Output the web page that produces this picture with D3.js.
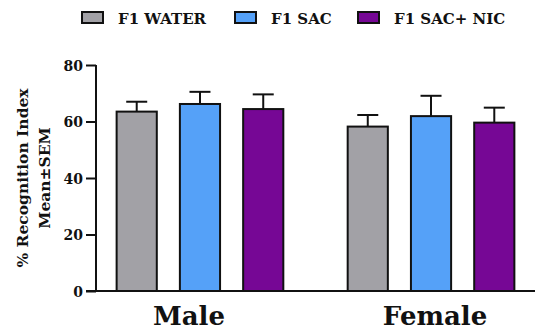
<!DOCTYPE html>
<html>
<head>
<meta charset="utf-8">
<script src="https://cdn.jsdelivr.net/npm/d3@7"></script>
<style>
  body { margin: 0; background: #fff; }
  text { font-family: "DejaVu Serif", serif; font-weight: bold; fill: #111; }
</style>
</head>
<body>
<div class="chart-container"></div>
<script>
// data
groups = ["Male", "Female"]
series = ["F1 WATER", "F1 SAC", "F1 SAC+ NIC"]
colors = ["#a2a1a6", "#55a1f8", "#760795"]
maleMean = [63.5, 66.2, 64.4]
maleSem = [3.5, 4.3, 5.2]
femaleMean = [58.2, 61.9, 59.6]
femaleSem = [4.1, 7.2, 5.3]
yTicks = [0, 20, 40, 60, 80]

data = []
groups.forEach((g, gi) => {
  means = gi == 0 ? maleMean : femaleMean
  sems = gi == 0 ? maleSem : femaleSem
  series.forEach((s, i) => data.push({group: g, series: s, mean: means[i], sem: sems[i], color: colors[i]}))
})

svg = d3.select(".chart-container").append("svg").attr('width', 539).attr('height', 331)

// scales
y = d3.scaleLinear().domain([0, 80]).range([291, 65])
x0 = d3.scaleBand().domain(groups).range([96, 535]).paddingInner(0.18).paddingOuter(0.04)
x1 = d3.scaleBand().domain(series).range([0, x0.bandwidth()]).paddingInner(0.365).paddingOuter(0.18)

// bars
bars = svg.selectAll('rect.bar').data(data).enter().append('rect')
  .attr('class', 'bar')
  .attr('x', d => x0(d.group) + x1(d.series))
  .attr('y', d => y(d.mean))
  .attr('width', x1.bandwidth())
  .attr('height', d => y(0) - y(d.mean))
  .attr('fill', d => d.color)
  .attr('stroke', '#111')
  .attr('stroke-width', 2)

// error bars (upper only)
err = svg.selectAll('g.err').data(data).enter().append('g').attr('class', 'err')
  .attr('transform', d => 'translate(' + (x0(d.group) + x1(d.series) + x1.bandwidth() / 2) + ',0)')
err.append('line').attr('x1', 0).attr('x2', 0)
  .attr('y1', d => y(d.mean)).attr('y2', d => y(d.mean + d.sem))
  .attr('stroke', '#111').attr('stroke-width', 2)
err.append('line').attr('x1', -10.5).attr('x2', 10.5)
  .attr('y1', d => y(d.mean + d.sem)).attr('y2', d => y(d.mean + d.sem))
  .attr('stroke', '#111').attr('stroke-width', 2)

// y axis
yAxis = d3.axisLeft(y).tickValues(yTicks).tickSize(10).tickPadding(3)
ySvg = svg.append('g').attr('transform', 'translate(96,0)').call(yAxis)
ySvg.select('.domain').attr('stroke', '#111').attr('stroke-width', 2).attr('d', 'M0,' + y(80) + 'V' + y(0))
ySvg.selectAll('.tick line').attr('stroke', '#111').attr('stroke-width', 2)
ySvg.selectAll('.tick text').style('font-size', '14px').attr('dy', '0.36em')

// x axis line
svg.append('line').attr('x1', 86).attr('x2', 535).attr('y1', y(0)).attr('y2', y(0))
  .attr('stroke', '#111').attr('stroke-width', 2)

// group labels
labelShift = [-11, 4]
svg.selectAll('text.group').data(groups).enter().append('text')
  .attr('class', 'group')
  .attr('x', (d, i) => x0(d) + x0.bandwidth() / 2 + labelShift[i])
  .attr('y', 325)
  .attr('text-anchor', 'middle')
  .style('font-size', '26px')
  .text(d => d)

// y title
yt = svg.append('text').attr('transform', 'translate(28,178) rotate(-90)').attr('text-anchor', 'middle').style('font-size', '15.5px')
yt.append('tspan').attr('x', 0).attr('y', 0).text('% Recognition Index')
yt.append('tspan').attr('x', 0).attr('y', 22).text('Mean±SEM')

// legend
legendX = [82, 235, 358]
leg = svg.selectAll('g.leg').data(series).enter().append('g').attr('class', 'leg')
  .attr('transform', (d, i) => 'translate(' + legendX[i] + ',12)')
leg.append('rect').attr('width', 21).attr('height', 11)
  .attr('fill', (d, i) => colors[i]).attr('stroke', '#111').attr('stroke-width', 2)
leg.append('text').attr('x', 36).attr('y', 11.5).style('font-size', '15px').text(d => d)
</script>
</body>
</html>
